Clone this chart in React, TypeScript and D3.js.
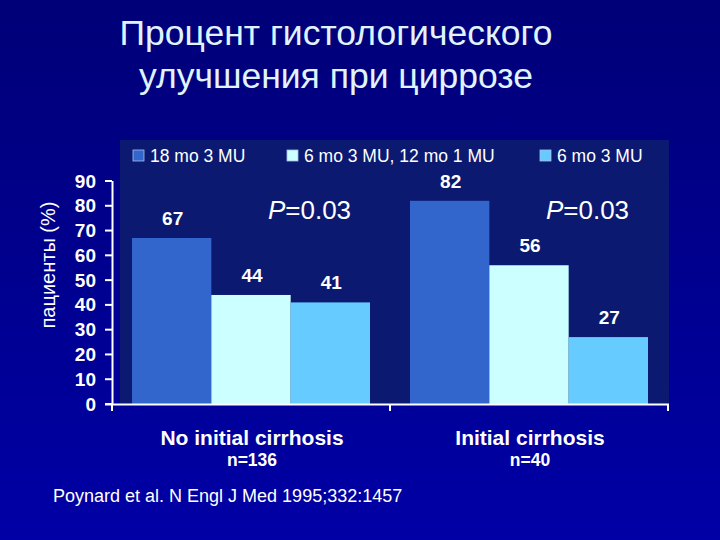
import React from "react";
import * as d3 from "d3";

const categories = ["No initial cirrhosis", "Initial cirrhosis"];
const nLabels = ["n=136", "n=40"];
const seriesNames = ["18 mo 3 MU", "6 mo 3 MU, 12 mo 1 MU", "6 mo 3 MU"];
const seriesColors = ["#3366cc", "#ccffff", "#66ccff"];
const values18mo = [67, 82];
const values6mo12mo = [44, 56];
const values6mo = [41, 27];
const pValues = ["0.03", "0.03"];
const yTicks = [0, 10, 20, 30, 40, 50, 60, 70, 80, 90];

const seriesValues = [values18mo, values6mo12mo, values6mo];

export default function App() {
  const W = 720, H = 540;
  const x0 = d3.scaleBand().domain(categories).range([112, 668]).paddingInner(0).paddingOuter(0);
  const x1 = d3.scaleBand().domain(seriesNames).range([20, x0.bandwidth() - 20]).padding(0);
  const y = d3.scaleLinear().domain([0, 90]).range([404, 181]);
  const font = "'Liberation Sans', Arial, sans-serif";
  const legendX = [133, 287, 540];

  return (
    <svg width={W} height={H} style={{ position: "absolute", left: 0, top: 0 }} fontFamily={font}>
      <defs>
        <linearGradient id="bg" x1="0" y1="0" x2="0" y2="1">
          <stop offset="0" stopColor="#000078" />
          <stop offset="1" stopColor="#0000a6" />
        </linearGradient>
      </defs>
      <rect width={W} height={H} fill="url(#bg)" />
      <text x={336} y={45} textAnchor="middle" fill="#e0f4ff" fontSize={35.5}>Процент гистологического</text>
      <text x={336} y={88} textAnchor="middle" fill="#e0f4ff" fontSize={35.5}>улучшения при циррозе</text>

      <rect x={120} y={140} width={549} height={264} fill="#0b1a70" />

      {seriesNames.map((s, i) => {
        const lx = legendX[i];
        return (
          <g key={s}>
            <rect x={lx} y={150} width={11} height={11} fill={seriesColors[i]} stroke="#aabbee" strokeWidth={0.8} />
            <text x={lx + 17} y={162} fill="white" fontSize={17.5}>{s}</text>
          </g>
        );
      })}

      {categories.map((c, ci) =>
        seriesNames.map((s, si) => {
          const v = seriesValues[si][ci];
          const bx = (x0(c) as number) + (x1(s) as number);
          return (
            <g key={c + s}>
              <rect x={bx} y={y(v)} width={x1.bandwidth()} height={y(0) - y(v)} fill={seriesColors[si]} />
              <text x={bx + x1.bandwidth() / 2 + 1} y={y(v) - 13} textAnchor="middle" fill="white" fontWeight="bold" fontSize={19}>{v}</text>
            </g>
          );
        })
      )}

      {categories.map((c, ci) => (
        <text key={"p" + c} x={(x0(c) as number) + 197.5} y={219} textAnchor="middle" fill="white" fontSize={26}>
          <tspan fontStyle="italic">P</tspan>={pValues[ci]}
        </text>
      ))}

      <line x1={112.5} x2={112.5} y1={181} y2={404} stroke="white" strokeWidth={2} />
      {yTicks.map((t) => (
        <g key={t}>
          <line x1={105} x2={112} y1={y(t)} y2={y(t)} stroke="white" strokeWidth={2} />
          <text x={96} y={y(t) + 6.5} textAnchor="end" fill="white" fontWeight="bold" fontSize={19}>{t}</text>
        </g>
      ))}
      <line x1={105} x2={669} y1={404.5} y2={404.5} stroke="white" strokeWidth={2} />
      {[x0.range()[0], (x0(categories[1]) as number), x0.range()[1]].map((tx, i) => (
        <line key={"xt" + i} x1={tx} x2={tx} y1={404} y2={411} stroke="white" strokeWidth={2} />
      ))}

      {categories.map((c, ci) => {
        const cx = (x0(c) as number) + x0.bandwidth() / 2 + 1;
        return (
          <g key={"lab" + c}>
            <text x={cx} y={445} textAnchor="middle" fill="white" fontWeight="bold" fontSize={21}>{c}</text>
            <text x={cx} y={466} textAnchor="middle" fill="white" fontWeight="bold" fontSize={17.5}>{nLabels[ci]}</text>
          </g>
        );
      })}

      <text transform="translate(55,265) rotate(-90)" textAnchor="middle" fill="white" fontSize={20}>пациенты (%)</text>

      <text x={53} y={502} fill="white" fontSize={18}>Poynard et al. N Engl J Med 1995;332:1457</text>
    </svg>
  );
}
